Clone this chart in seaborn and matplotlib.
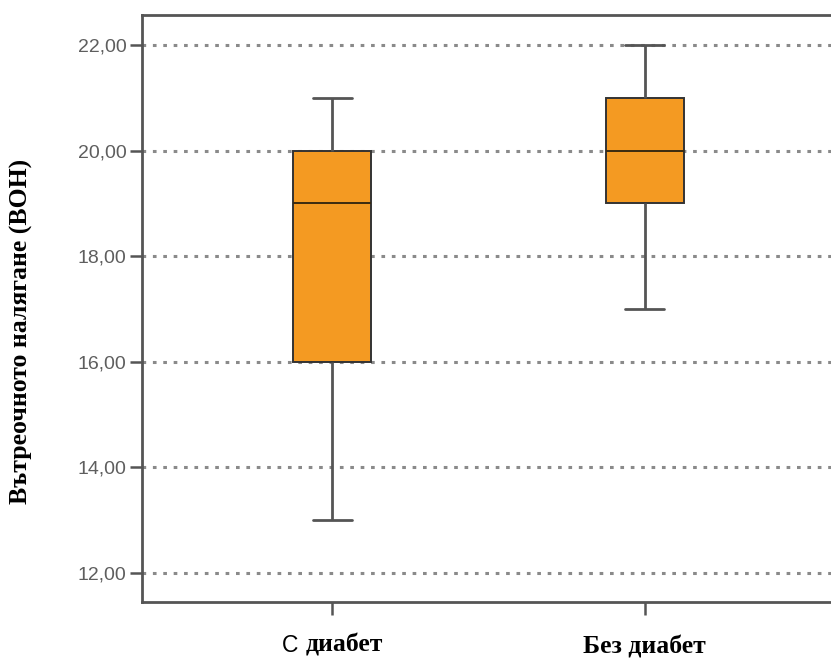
import matplotlib
matplotlib.use("Agg")
import matplotlib.pyplot as plt
import matplotlib.transforms as mtransforms
from matplotlib.ticker import FuncFormatter
import seaborn as sns
import pandas as pd

# Intraocular pressure readings per group
groups = ["С диабет", "Без диабет"]
with_diabetes = [13, 16, 16, 18, 19, 20, 20, 20, 21]
without_diabetes = [17, 19, 19, 20, 20, 20, 21, 21, 22]
y_ticks = [12, 14, 16, 18, 20, 22]
y_label = "Вътреочното налягане (ВОН)"

df = pd.DataFrame({
    "group": [groups[0]] * len(with_diabetes) + [groups[1]] * len(without_diabetes),
    "value": with_diabetes + without_diabetes,
})

sns.set_theme(style="white")
plt.rcParams["font.family"] = ["Liberation Sans", "DejaVu Sans"]
SERIF = ["Liberation Serif", "DejaVu Serif"]
SANS = ["Liberation Sans", "DejaVu Sans"]

W, H = 831, 660
fig = plt.figure(figsize=(W / 100, H / 100), dpi=100)
ax = fig.add_axes([142 / W, 58 / H, 690 / W, 587 / H])

edge = "#333333"
sns.boxplot(
    data=df, x="group", y="value", order=groups, ax=ax,
    color="#F49A22", saturation=1, width=0.25, whis=(0, 100),
    linewidth=1.4, linecolor=edge, showfliers=False,
    boxprops=dict(edgecolor=edge),
    whiskerprops=dict(color="#555555", linewidth=2),
    capprops=dict(color="#555555", linewidth=2),
    medianprops=dict(color="#3a2a10", linewidth=1.4),
)

ax.set_xlim(-0.61, 1.6)
ax.set_ylim(11.45, 22.57)
ax.set_yticks(y_ticks)
ax.yaxis.set_major_formatter(FuncFormatter(lambda v, _: f"{v:.2f}".replace(".", ",")))
ax.set_axisbelow(True)
ax.yaxis.grid(True, color="#8a8a8a", linestyle=(0, (1.2, 2.2)), linewidth=2.2)
ax.xaxis.grid(False)

for side in ["left", "bottom", "top"]:
    ax.spines[side].set_color("#555555")
    ax.spines[side].set_linewidth(2)
ax.spines["right"].set_visible(False)

ax.tick_params(axis="y", which="major", left=True, length=9, width=1.8,
               color="#555555", labelsize=14, labelcolor="#5e5e5e", pad=2)
ax.tick_params(axis="x", which="major", bottom=True, length=9, width=1.8,
               color="#555555")
ax.set_xticks(range(len(groups)))
ax.set_xticklabels([""] * len(groups))
ax.set_xlabel("")
ax.set_ylabel("")

# Category labels below the ticks: the leading "С" of the first label is set
# in the sans face, the rest in bold serif.
label_size = 18.5
head_size = 16.5
xform = mtransforms.blended_transform_factory(ax.transData, fig.transFigure)
renderer = fig.canvas.get_renderer()
label_y = {0: (H - 652) / H, 1: (H - 654) / H}

for i, name in enumerate(groups):
    if i == 0:
        head, tail = name.split(" ", 1)
        t_head = fig.text(0, 0, head, fontsize=head_size, family=SANS)
        t_sp = fig.text(0, 0, "a a", fontsize=label_size, family=SERIF, fontweight="bold")
        t_aa = fig.text(0, 0, "aa", fontsize=label_size, family=SERIF, fontweight="bold")
        t_tail = fig.text(0, 0, tail, fontsize=label_size, family=SERIF, fontweight="bold")
        w_head = t_head.get_window_extent(renderer).width
        w_space = (t_sp.get_window_extent(renderer).width
                   - t_aa.get_window_extent(renderer).width)
        w_tail = t_tail.get_window_extent(renderer).width
        for t in (t_head, t_sp, t_aa, t_tail):
            t.remove()
        total = w_head + w_space + w_tail
        left_pt = -total / 2 * 72 / 100
        ax.annotate(head, xy=(i, label_y[i]), xycoords=xform,
                    xytext=(left_pt, 0), textcoords="offset points",
                    ha="left", va="baseline", fontsize=head_size, family=SANS,
                    color="black", annotation_clip=False)
        ax.annotate(tail, xy=(i, label_y[i]), xycoords=xform,
                    xytext=(left_pt + (w_head + w_space) * 72 / 100, 0),
                    textcoords="offset points", ha="left", va="baseline",
                    fontsize=label_size, family=SERIF, fontweight="bold",
                    color="black", annotation_clip=False)
    else:
        ax.text(i, label_y[i], name, transform=xform, ha="center", va="baseline",
                fontsize=label_size, family=SERIF, fontweight="bold", color="black")

fig.text(21 / W, (H - 331) / H, y_label, rotation=90, ha="center", va="center",
         fontsize=label_size, family=SERIF, fontweight="bold", color="black")

fig.savefig("out.png", dpi=100)
